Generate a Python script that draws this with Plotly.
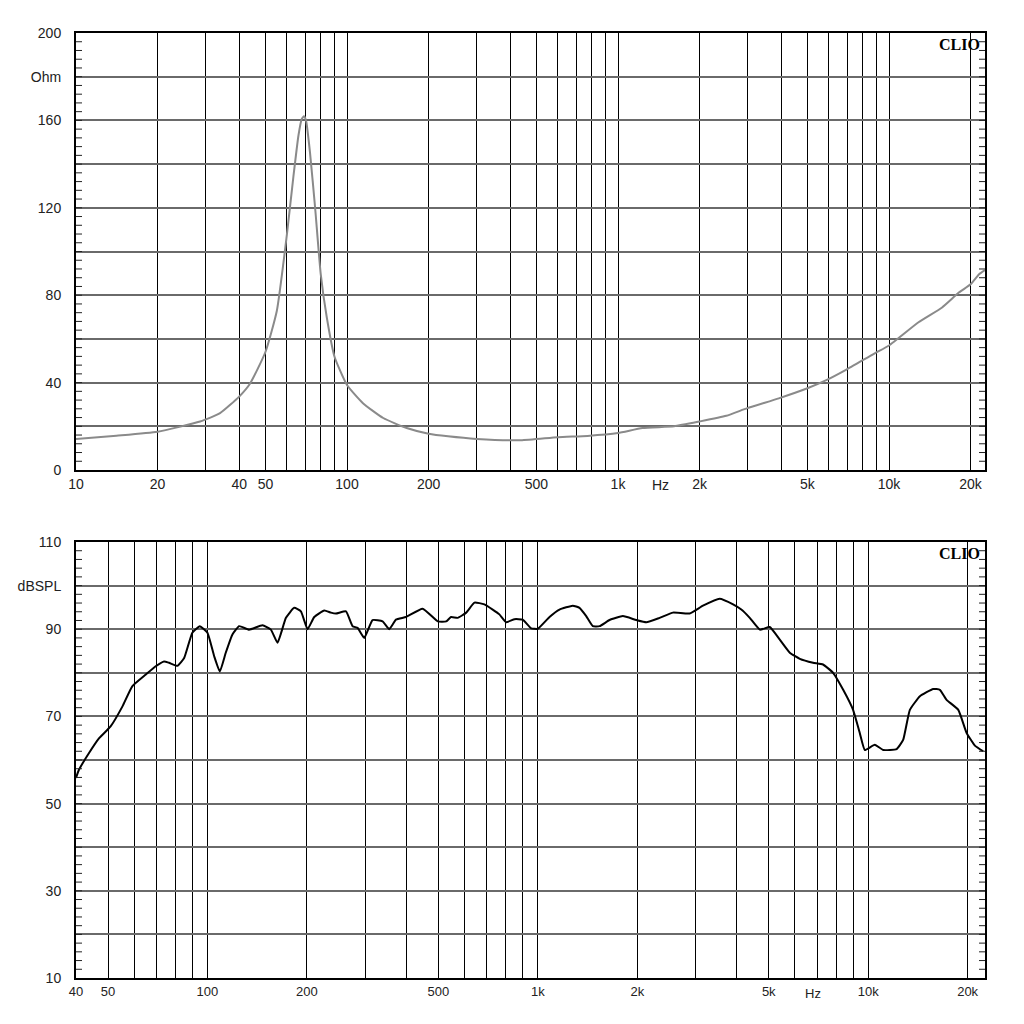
import math
import plotly.graph_objects as go

# ---------------- data ----------------
imp_freq = [10, 14.1, 20, 28.7, 34, 40, 43.9, 50, 55.1, 60, 63.3, 66.2, 68.1, 69.4, 70.6, 73, 76.3,
            80, 84.2, 90, 100, 114.5, 136, 166, 200, 236, 301, 438, 600, 772, 1000, 1231, 1610,
            2000, 2510, 3000, 3920, 5000, 5870, 6910, 8830, 10000, 12850, 15700, 18100, 20000,
            21500, 22600]
imp_ohm = [14.2, 15.7, 17.5, 22.2, 26, 33.6, 39.6, 54, 72.9, 107.7, 133.4, 153.1, 160.7, 161.9,
           159.9, 145.5, 119.8, 89.6, 69.9, 51.7, 38.9, 30.6, 23.8, 19.2, 16.6, 15.4, 14.2, 13.6,
           15, 15.6, 16.9, 19.2, 20, 22.2, 24.8, 28.3, 32.8, 37.4, 41.1, 45.7, 53.3, 57, 67.6,
           74.4, 81.2, 85, 89.6, 91.5]

spl_freq = [40, 40.8, 43.8, 47.0, 50.9, 55.3, 59.2, 65.1, 69.7, 73.9,
            76.5, 81.1, 85.0, 90.0, 94.8, 100, 104.8, 109.0, 113.6, 119.0,
            124.7, 133.7, 146.7, 155.6, 163.0, 172.8, 183.0, 191.8, 200.9, 210.5,
            225.7, 236.5, 244.9, 262.6, 275.0, 284.7, 298.3, 316, 339, 355,
            372, 399, 448, 498, 528, 546, 572, 607, 643, 689,
            730, 765, 802, 850, 900, 955, 1000, 1085, 1163, 1276,
            1337, 1401, 1467, 1538, 1649, 1809, 1987, 2130, 2337, 2565,
            2881, 3162, 3550, 3900, 4130, 4380, 4700, 5035, 5400, 5790,
            6210, 6810, 7300, 7830, 8400, 9000, 9430, 9770, 10470, 11100,
            12190, 12760, 13370, 14340, 15730, 16480, 17270, 18740, 19860, 21040,
            22290]
spl_db = [55.9, 57.7, 61.6, 65.0, 67.7, 72.3, 76.9, 79.6, 81.5, 82.6,
          82.3, 81.6, 83.4, 89.2, 90.7, 89.2, 83.8, 80.3, 84.6, 88.8,
          90.7, 89.9, 90.9, 89.9, 86.9, 92.6, 94.9, 94.1, 90.0, 92.8,
          94.3, 93.8, 93.6, 94.1, 90.7, 90.3, 88.0, 92.1, 91.8, 90.0,
          92.2, 92.8, 94.7, 91.8, 91.8, 92.8, 92.6, 93.8, 96.1, 95.7,
          94.5, 93.4, 91.6, 92.3, 92.2, 90.2, 90.1, 92.8, 94.5, 95.4,
          94.9, 93.0, 90.7, 90.7, 92.1, 93.0, 92.1, 91.6, 92.6, 93.8,
          93.6, 95.4, 97.0, 95.7, 94.5, 92.6, 89.9, 90.5, 87.6, 84.6,
          83.2, 82.3, 81.9, 80.0, 76.1, 71.5, 66.2, 62.3, 63.5, 62.3,
          62.5, 64.6, 71.5, 74.6, 76.3, 76.1, 73.8, 71.5, 66.2, 63.3,
          62.0]

freq_labels = {10: "10", 20: "20", 40: "40", 50: "50", 100: "100", 200: "200", 500: "500",
               1000: "1k", 2000: "2k", 5000: "5k", 10000: "10k", 20000: "20k"}
imp_ytick_vals = [0, 20, 40, 60, 80, 100, 120, 140, 160, 180, 200]
imp_ytick_text = ["0", "", "40", "", "80", "", "120", "", "160", "Ohm", "200"]
spl_ytick_vals = [10, 20, 30, 40, 50, 60, 70, 80, 90, 100, 110]
spl_ytick_text = ["10", "", "30", "", "50", "", "70", "", "90", "dBSPL", "110"]
imp_minor_step = 4
spl_minor_step = 2


def grid_freqs(fmin, fmax):
    out = []
    for dec in [10, 100, 1000, 10000]:
        for m in range(1, 10):
            f = dec * m
            if fmin <= f <= fmax:
                out.append(f)
    return out


top_ticks = grid_freqs(10, 20000)
bot_ticks = grid_freqs(40, 20000)

W = H = 1024
FONT = "Liberation Sans, Arial, sans-serif"

fig = go.Figure()
fig.add_trace(go.Scatter(x=imp_freq, y=imp_ohm, mode="lines", xaxis="x", yaxis="y",
                         line=dict(color="#8a8a8a", width=2, shape="spline", smoothing=0.5),
                         showlegend=False))
fig.add_trace(go.Scatter(x=spl_freq, y=spl_db, mode="lines", xaxis="x2", yaxis="y2",
                         line=dict(color="#000000", width=2, shape="spline", smoothing=0.4),
                         showlegend=False))

xl, xr = 76 / W, 985 / W
top_dom = [1 - 470 / H, 1 - 33 / H]
bot_dom = [1 - 978 / H, 1 - 542 / H]

common_x = dict(type="log", showgrid=True, gridcolor="#000000", gridwidth=1, ticks="",
                showline=True, linecolor="#000000", linewidth=2, mirror=True,
                tickfont=dict(family=FONT, size=14, color="#222"), automargin=False,
                zeroline=False)
common_y = dict(showgrid=True, gridcolor="#6a6a6a", gridwidth=1.5, ticks="",
                showline=True, linecolor="#000000", linewidth=2,
                mirror=True, zeroline=False, automargin=False,
                tickfont=dict(family=FONT, size=14, color="#222"), ticklabelstandoff=10)

fig.update_layout(
    width=W, height=H, margin=dict(l=0, r=0, t=0, b=0),
    paper_bgcolor="white", plot_bgcolor="white",
    xaxis=dict(common_x, domain=[xl, xr], anchor="y",
               range=[1, math.log10(10) + (985 - 76) / 271],
               tickvals=top_ticks, ticktext=[freq_labels.get(f, "") for f in top_ticks]),
    yaxis=dict(common_y, domain=top_dom, anchor="x", range=[0, 200],
               tickvals=imp_ytick_vals, ticktext=imp_ytick_text),
    xaxis2=dict(common_x, domain=[xl, xr], anchor="y2",
                range=[math.log10(40), math.log10(40) + (985 - 77) / 330],
                tickvals=bot_ticks, ticktext=[freq_labels.get(f, "") for f in bot_ticks],
                tickfont=dict(family=FONT, size=13, color="#222")),
    yaxis2=dict(common_y, domain=bot_dom, anchor="x2", range=[10, 110],
                tickvals=spl_ytick_vals, ticktext=spl_ytick_text),
)

# small inside tick marks on both vertical borders (placed at y-axis values)
tick_frac = 6 / (985 - 76)
for xa, ya, lo, hi, step in [("x", "y", 0, 200, imp_minor_step),
                             ("x2", "y2", 10, 110, spl_minor_step)]:
    n = int(round((hi - lo) / step))
    for i in range(1, n):
        v = lo + i * step
        for x0, x1 in [(0, tick_frac), (1 - tick_frac, 1)]:
            fig.add_shape(type="line", xref=f"{xa} domain", yref=ya, x0=x0, x1=x1, y0=v, y1=v,
                          line=dict(color="#222222", width=1), layer="above")

# "Hz" unit labels and CLIO marks
fig.add_annotation(x=math.log10(1430), xref="x", y=1 - 475 / H, yref="paper", yanchor="top",
                   text="Hz", showarrow=False, font=dict(family=FONT, size=14, color="#222"))
fig.add_annotation(x=math.log10(6790), xref="x2", y=1 - 984 / H, yref="paper", yanchor="top",
                   text="Hz", showarrow=False, font=dict(family=FONT, size=13, color="#222"))
for ytop in [33, 542]:
    fig.add_annotation(x=982 / W, xref="paper", y=1 - (ytop + 1) / H, yref="paper",
                       text="<b>CLIO</b>", showarrow=False, xanchor="right", yanchor="top",
                       font=dict(family="Liberation Serif, Times New Roman, serif", size=16,
                                 color="#000"))

fig.write_html("out.html")
